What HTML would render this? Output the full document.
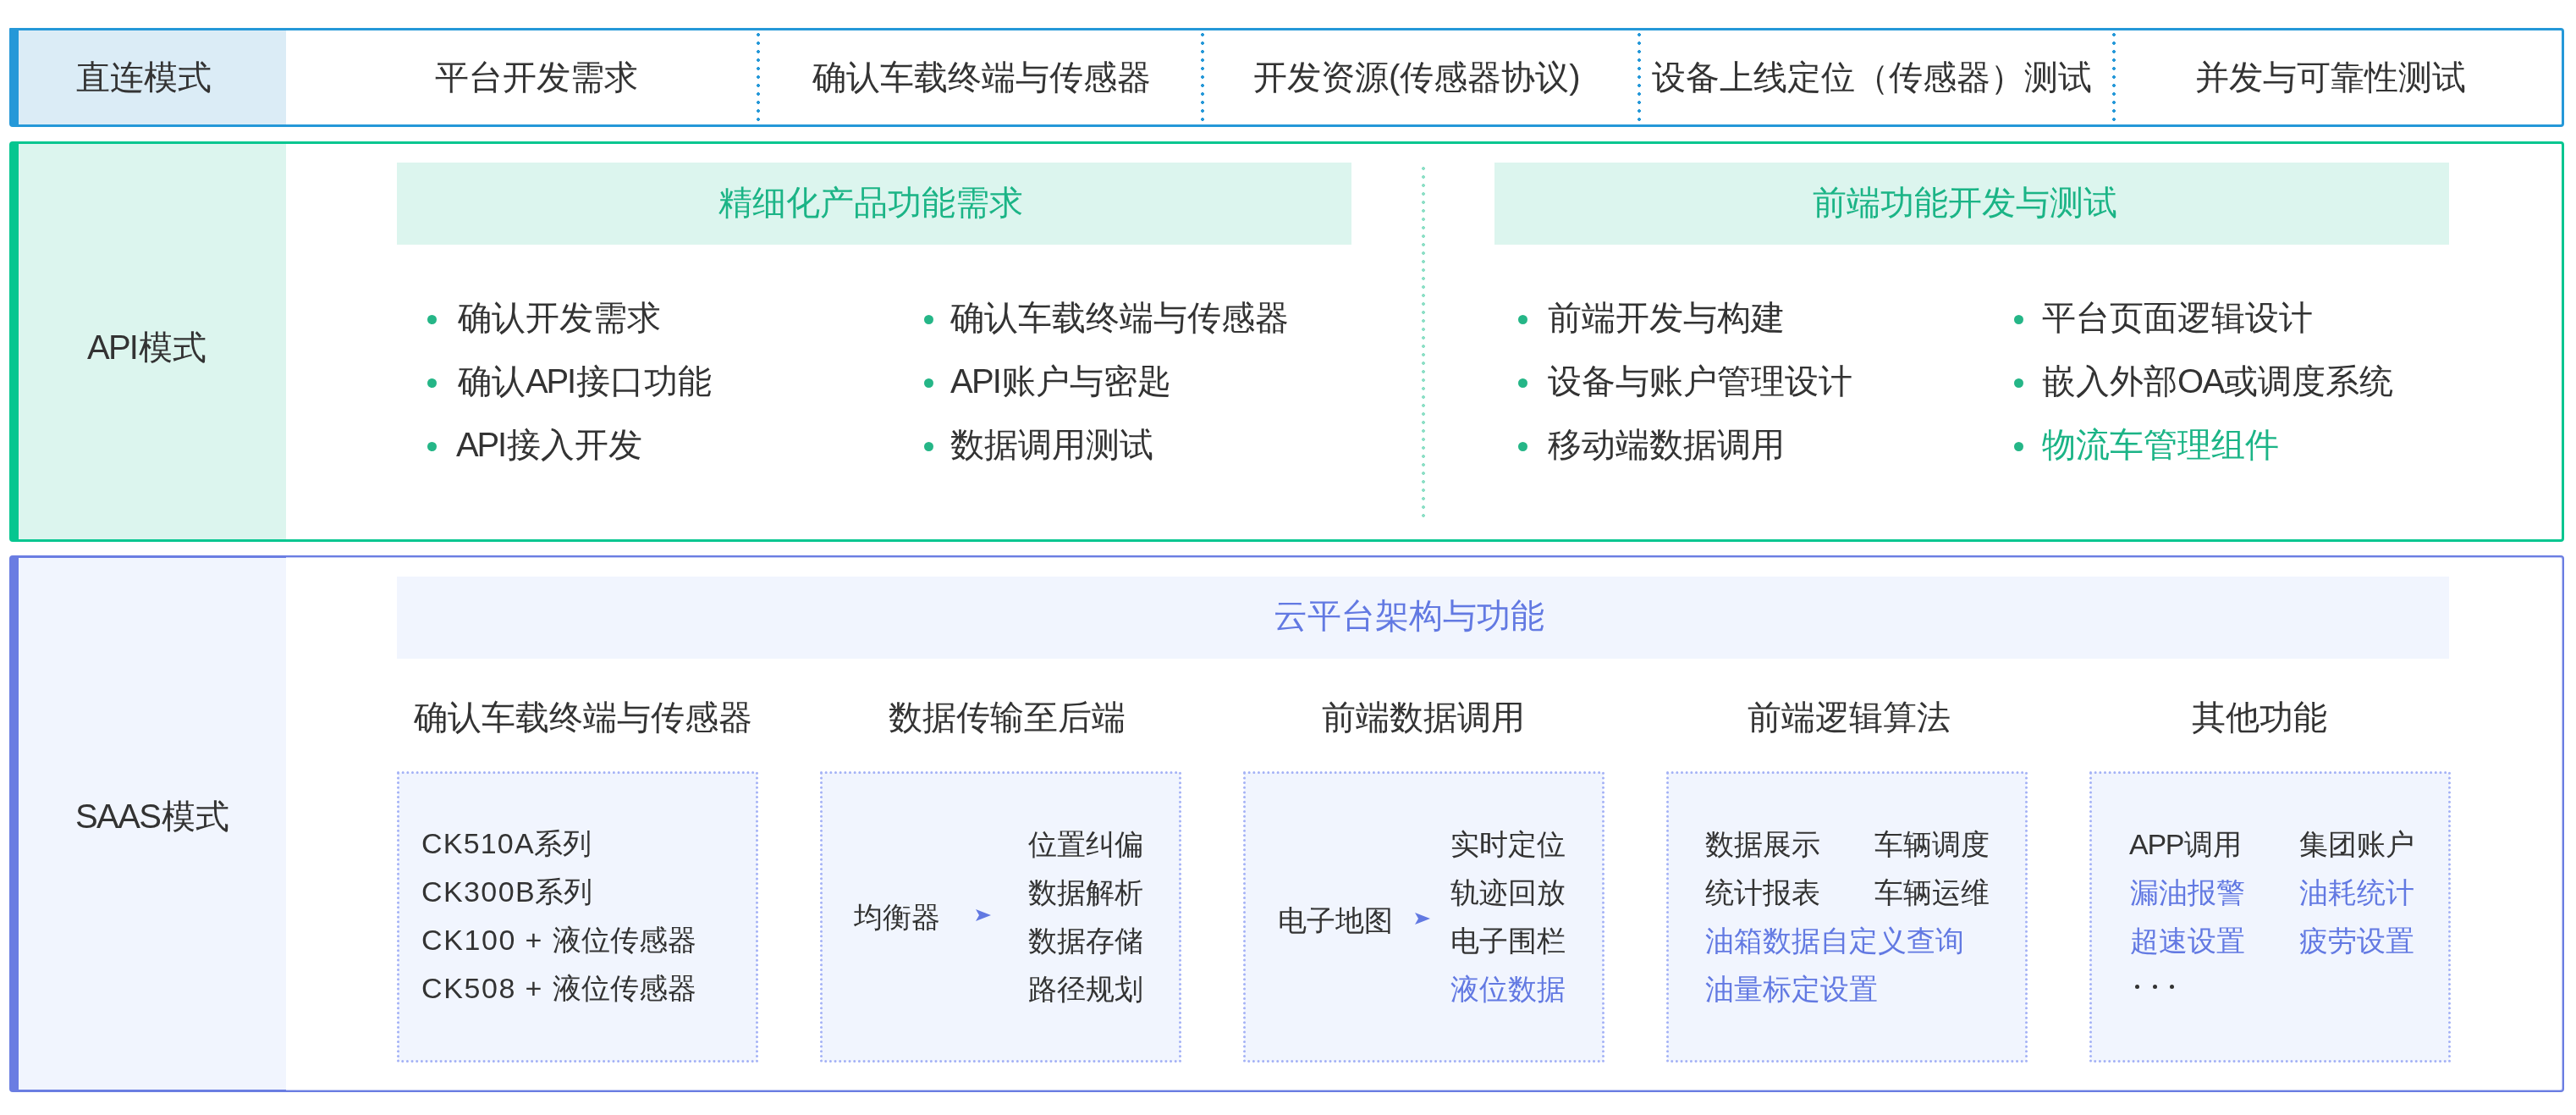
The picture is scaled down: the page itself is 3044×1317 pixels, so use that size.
<!DOCTYPE html>
<html>
<head>
<meta charset="utf-8">
<style>
html,body{margin:0;padding:0;}
body{width:3044px;height:1317px;background:#fff;position:relative;overflow:hidden;font-family:"Liberation Sans",sans-serif;color:#333;}
.a{position:absolute;}
.t{will-change:transform;position:absolute;white-space:nowrap;line-height:1;font-size:40px;font-weight:300;}
.s{font-size:34px;}
.g{color:#1bb486;}
.p{color:#6279e2;}
.box{position:absolute;left:11px;width:3019px;box-sizing:border-box;border:3px solid;border-left-width:11px;border-radius:4px;}
.vd{position:absolute;width:4px;background-size:4px 10px;background-repeat:repeat-y;}
.bul{position:absolute;width:11px;height:11px;border-radius:50%;background:#25b687;}
.db{position:absolute;top:911px;width:427px;height:344px;}
</style>
</head>
<body>
<!-- ===== Row 1: direct mode ===== -->
<div class="box" style="top:33px;height:117px;border-color:#2598d8;border-top-left-radius:1px;"></div>
<div class="a" style="left:22px;top:36px;width:316px;height:111px;background:#dbecf6;"></div>
<div class="vd" style="left:894px;top:39px;height:104px;background-image:radial-gradient(circle at 2px 2px,#2598d8 1.6px,rgba(37,152,216,0) 2.2px);"></div>
<div class="vd" style="left:1419px;top:39px;height:104px;background-image:radial-gradient(circle at 2px 2px,#2598d8 1.6px,rgba(37,152,216,0) 2.2px);"></div>
<div class="vd" style="left:1935px;top:39px;height:104px;background-image:radial-gradient(circle at 2px 2px,#2598d8 1.6px,rgba(37,152,216,0) 2.2px);"></div>
<div class="vd" style="left:2496px;top:39px;height:104px;background-image:radial-gradient(circle at 2px 2px,#2598d8 1.6px,rgba(37,152,216,0) 2.2px);"></div>

<div class="t" style="left:90px;top:71px;">直连模式</div>
<div class="t" style="left:514px;top:71px;">平台开发需求</div>
<div class="t" style="left:960px;top:71px;">确认车载终端与传感器</div>
<div class="t" style="left:1481px;top:71px;">开发资源(传感器协议)</div>
<div class="t" style="left:1952px;top:71px;">设备上线定位（传感器）测试</div>
<div class="t" style="left:2594px;top:71px;">并发与可靠性测试</div>

<!-- ===== Row 2: API mode ===== -->
<div class="box" style="top:167px;height:473px;border-color:#06c690;"></div>
<div class="a" style="left:22px;top:170px;width:316px;height:467px;background:#dcf5ee;"></div>
<div class="a" style="left:469px;top:192px;width:1128px;height:97px;background:#dcf5ee;"></div>
<div class="a" style="left:1766px;top:192px;width:1128px;height:97px;background:#dcf5ee;"></div>
<div class="vd" style="left:1680px;top:197px;height:416px;background-image:radial-gradient(circle at 2px 2px,#8ddfc6 1.6px,rgba(141,223,198,0) 2.2px);"></div>

<div class="t" style="left:103px;top:390px;"><span style="letter-spacing:-1.8px">AP</span>I模式</div>
<div class="t g" style="left:849px;top:219px;">精细化产品功能需求</div>
<div class="t g" style="left:2142px;top:219px;">前端功能开发与测试</div>

<div class="bul" style="left:505px;top:372px;"></div>
<div class="bul" style="left:505px;top:447px;"></div>
<div class="bul" style="left:505px;top:522px;"></div>
<div class="bul" style="left:1092px;top:372px;"></div>
<div class="bul" style="left:1092px;top:447px;"></div>
<div class="bul" style="left:1092px;top:522px;"></div>
<div class="bul" style="left:1794px;top:372px;"></div>
<div class="bul" style="left:1794px;top:447px;"></div>
<div class="bul" style="left:1794px;top:522px;"></div>
<div class="bul" style="left:2380px;top:372px;"></div>
<div class="bul" style="left:2380px;top:447px;"></div>
<div class="bul" style="left:2380px;top:522px;"></div>

<div class="t" style="left:541px;top:355px;">确认开发需求</div>
<div class="t" style="left:541px;top:430px;">确认<span style="letter-spacing:-2.2px">AP</span>I接口功能</div>
<div class="t" style="left:539px;top:505px;"><span style="letter-spacing:-2.2px">AP</span>I接入开发</div>
<div class="t" style="left:1123px;top:355px;">确认车载终端与传感器</div>
<div class="t" style="left:1123px;top:430px;"><span style="letter-spacing:-1.8px">AP</span>I账户与密匙</div>
<div class="t" style="left:1123px;top:505px;">数据调用测试</div>
<div class="t" style="left:1829px;top:355px;">前端开发与构建</div>
<div class="t" style="left:1829px;top:430px;">设备与账户管理设计</div>
<div class="t" style="left:1829px;top:505px;">移动端数据调用</div>
<div class="t" style="left:2413px;top:355px;">平台页面逻辑设计</div>
<div class="t" style="left:2413px;top:430px;">嵌入外部<span style="letter-spacing:-1.5px">OA</span>或调度系统</div>
<div class="t g" style="left:2413px;top:505px;">物流车管理组件</div>

<!-- ===== Row 3: SAAS mode ===== -->
<div class="box" style="top:656px;height:634px;border-color:#6a7de2;border-top-width:2px;border-right-width:2px;border-bottom-width:2px;box-shadow:inset 0 1px 0 rgba(106,125,226,0.4),inset -1px 0 0 rgba(106,125,226,0.4),inset 0 -1px 0 rgba(106,125,226,0.4);"></div>
<div class="a" style="left:22px;top:658px;width:316px;height:630px;background:#f1f5fe;border-top:1px solid #6a7de2;border-bottom:1px solid #6a7de2;box-sizing:border-box;"></div>
<div class="a" style="left:469px;top:681px;width:2425px;height:97px;background:#f1f5fe;"></div>

<div class="t" style="left:89px;top:944px;"><span style="letter-spacing:-1.6px">SAA</span>S模式</div>
<div class="t p" style="left:1505px;top:707px;">云平台架构与功能</div>

<div class="t" style="left:489px;top:827px;">确认车载终端与传感器</div>
<div class="t" style="left:1050px;top:827px;">数据传输至后端</div>
<div class="t" style="left:1562px;top:827px;">前端数据调用</div>
<div class="t" style="left:2065px;top:827px;">前端逻辑算法</div>
<div class="t" style="left:2590px;top:827px;">其他功能</div>

<svg class="db" style="left:469px;" width="427" height="344" viewBox="0 0 427 344"><rect x="1.5" y="1.5" width="424" height="341" fill="#f1f5fe" stroke="#a3b1f6" stroke-width="3" stroke-dasharray="0 5.664" stroke-linecap="round"/></svg>
<svg class="db" style="left:969px;" width="427" height="344" viewBox="0 0 427 344"><rect x="1.5" y="1.5" width="424" height="341" fill="#f1f5fe" stroke="#a3b1f6" stroke-width="3" stroke-dasharray="0 5.664" stroke-linecap="round"/></svg>
<svg class="db" style="left:1469px;" width="427" height="344" viewBox="0 0 427 344"><rect x="1.5" y="1.5" width="424" height="341" fill="#f1f5fe" stroke="#a3b1f6" stroke-width="3" stroke-dasharray="0 5.664" stroke-linecap="round"/></svg>
<svg class="db" style="left:1969px;" width="427" height="344" viewBox="0 0 427 344"><rect x="1.5" y="1.5" width="424" height="341" fill="#f1f5fe" stroke="#a3b1f6" stroke-width="3" stroke-dasharray="0 5.664" stroke-linecap="round"/></svg>
<svg class="db" style="left:2469px;" width="427" height="344" viewBox="0 0 427 344"><rect x="1.5" y="1.5" width="424" height="341" fill="#f1f5fe" stroke="#a3b1f6" stroke-width="3" stroke-dasharray="0 5.664" stroke-linecap="round"/></svg>

<!-- box 1 -->
<div class="t s" style="left:498px;top:979px;"><span style="letter-spacing:1.2px">CK510</span>A系列</div>
<div class="t s" style="left:498px;top:1036px;"><span style="letter-spacing:1.4px">CK300</span>B系列</div>
<div class="t s" style="left:498px;top:1093px;word-spacing:2.7px;"><span style="letter-spacing:1.6px">CK10</span>0 + 液位传感器</div>
<div class="t s" style="left:498px;top:1150px;word-spacing:2.7px;"><span style="letter-spacing:1.6px">CK50</span>8 + 液位传感器</div>
<!-- box 2 -->
<div class="t s" style="left:1009px;top:1066px;">均衡器</div>
<div class="t s" style="left:1215px;top:980px;">位置纠偏</div>
<div class="t s" style="left:1215px;top:1037px;">数据解析</div>
<div class="t s" style="left:1215px;top:1094px;">数据存储</div>
<div class="t s" style="left:1215px;top:1151px;">路径规划</div>
<!-- box 3 -->
<div class="t s" style="left:1510px;top:1070px;">电子地图</div>
<div class="t s" style="left:1714px;top:980px;">实时定位</div>
<div class="t s" style="left:1714px;top:1037px;">轨迹回放</div>
<div class="t s" style="left:1714px;top:1094px;">电子围栏</div>
<div class="t s p" style="left:1714px;top:1151px;">液位数据</div>
<!-- box 4 -->
<div class="t s" style="left:2015px;top:980px;">数据展示</div>
<div class="t s" style="left:2015px;top:1037px;">统计报表</div>
<div class="t s p" style="left:2015px;top:1094px;">油箱数据自定义查询</div>
<div class="t s p" style="left:2015px;top:1151px;">油量标定设置</div>
<div class="t s" style="left:2215px;top:980px;">车辆调度</div>
<div class="t s" style="left:2215px;top:1037px;">车辆运维</div>
<!-- box 5 -->
<div class="t s" style="left:2516px;top:980px;"><span style="letter-spacing:-1.3px">AP</span>P调用</div>
<div class="t s p" style="left:2517px;top:1037px;">漏油报警</div>
<div class="t s p" style="left:2517px;top:1094px;">超速设置</div>
<div class="t s" style="left:2717px;top:980px;">集团账户</div>
<div class="t s p" style="left:2717px;top:1037px;">油耗统计</div>
<div class="t s p" style="left:2717px;top:1094px;">疲劳设置</div>
<div class="a" style="left:2522.6px;top:1162.8px;width:5.6px;height:5.6px;border-radius:50%;background:#333;"></div>
<div class="a" style="left:2543.6px;top:1162.8px;width:5.6px;height:5.6px;border-radius:50%;background:#333;"></div>
<div class="a" style="left:2563.6px;top:1162.8px;width:5.6px;height:5.6px;border-radius:50%;background:#333;"></div>

<!-- arrows -->
<svg class="a" style="left:1153px;top:1074px;" width="18" height="14" viewBox="0 0 18 14"><path d="M0 0 L18 7 L0 14 L4 7 Z" fill="#6279e2"/></svg>
<svg class="a" style="left:1672px;top:1078px;" width="18" height="14" viewBox="0 0 18 14"><path d="M0 0 L18 7 L0 14 L4 7 Z" fill="#6279e2"/></svg>
</body>
</html>
